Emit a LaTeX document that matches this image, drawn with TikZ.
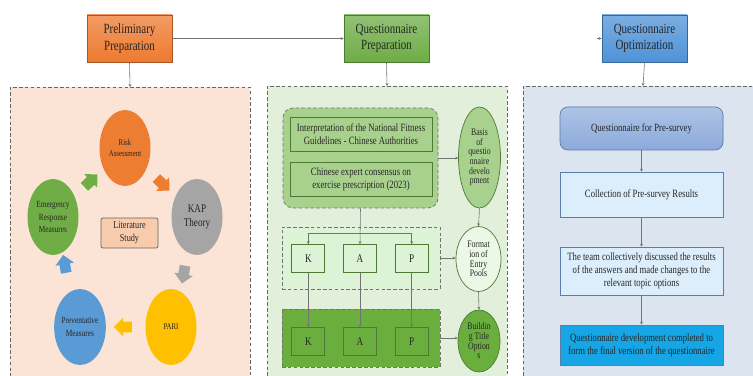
\documentclass[tikz,border=0pt]{standalone}
\usepackage{fontspec}
\setmainfont{Liberation Serif}[FakeStretch=0.78]
\usepackage{xcolor}
\usepackage{tikz}
\usetikzlibrary{matrix,shapes.geometric,shapes.arrows,arrows.meta,calc}
\newlength\pxu
\setlength\pxu{0.03cm}
\definecolor{prepor}{HTML}{EE7A30}
\definecolor{quesgr}{HTML}{6EAD45}
\definecolor{optbl}{HTML}{4F93D8}
\definecolor{peachbg}{HTML}{FBE4D5}
\definecolor{greenbg}{HTML}{E2EFDA}
\definecolor{bluebg}{HTML}{DCE4F0}
\definecolor{riskor}{HTML}{ED7D31}
\definecolor{kapgray}{HTML}{A5A5A5}
\definecolor{pariyel}{HTML}{FFC000}
\definecolor{prevbl}{HTML}{5B9BD5}
\definecolor{emergr}{HTML}{70AD47}
\definecolor{litpeach}{HTML}{F8CBAD}
\definecolor{midgreen}{HTML}{A9D18E}
\definecolor{mintgreen}{HTML}{DDF3D5}
\definecolor{deepgreen}{HTML}{6AAE3E}
\definecolor{edgegreen}{HTML}{4F7A36}
\definecolor{presbl}{HTML}{8CAADB}
\definecolor{collbl}{HTML}{DCEEFB}
\definecolor{finalbl}{HTML}{16A6E6}
\definecolor{edgeblue}{HTML}{5A7DAE}
\newcommand\arrowbody{\phantom{\rule{12\pxu}{10\pxu}}}
\begin{document}
\begin{tikzpicture}[x=0.03cm, y=-0.03cm, line width=0.6pt, text=black!85,
	headbox/.style={draw=#1!70!black, top color=#1!75!white, bottom color=#1, minimum width=85\pxu, minimum height=47\pxu, align=center, font=\fontsize{12}{14}\selectfont},
	panel/.style={draw=black!60, densely dashed, fill=#1, minimum width=240\pxu, minimum height=300\pxu, anchor=north},
	bubble/.style={ellipse, fill=#1, minimum width=51\pxu, minimum height=76\pxu, inner sep=0, align=center, font=\fontsize{7.5}{9.5}\selectfont},
	blockarrow/.style={single arrow, fill=#1, single arrow head extend=4\pxu, inner sep=0},
	grpbox/.style={draw=black!55, densely dashed, fill=#1},
	docbox/.style={draw=edgegreen, fill=midgreen, minimum width=142\pxu, minimum height=34\pxu, align=center, font=\fontsize{9.5}{11}\selectfont},
	oval/.style={ellipse, draw=edgegreen, fill=#1, minimum width=42\pxu, inner sep=0, align=center, font=\fontsize{8.5}{8.2}\selectfont},
	kapbox/.style={draw=edgegreen, fill=#1, minimum width=33\pxu, minimum height=28\pxu, font=\fontsize{10}{12}\selectfont},
	stepbox/.style={draw=edgeblue, fill=#1, minimum width=163\pxu, align=center, font=\fontsize{9.5}{11}\selectfont},
	link/.style={draw=black!55, line width=0.5pt, -{Stealth[length=2.5pt,width=2.5pt]}}]
	\clip (0,0) rectangle (753,376);
	\node[headbox=prepor] (prep) at (129.5,38.5) {Preliminary\\Preparation};
	\node[headbox=quesgr] (ques) at (386.5,38.5) {Questionnaire\\Preparation};
	\node[headbox=optbl] (opt) at (644.5,38.5) {Questionnaire\\Optimization};
	\coordinate (optin) at (597,38.5);
	\draw[link] (prep) -- (ques);
	\draw[link] (optin) -- (opt);
	\node[panel=peachbg] (prepbg) at (130,87) {};
	\node[panel=greenbg] (quesbg) at (387,86) {};
	\node[panel=bluebg] (optbg) at (643,86) {};
	\draw[link] (prep.south) -- (prepbg.north);
	\draw[link] (ques.south) -- (quesbg.north);
	\draw[link] (opt.south) -- (optbg.north);
	\node[bubble=riskor] (risk) at (125,148) {Risk\\Assessment};
	\node[bubble=kapgray, font=\fontsize{10}{12}\selectfont] (kapt) at (197,217) {KAP\\Theory};
	\node[bubble=pariyel] (pari) at (171,327) {PARI};
	\node[bubble=prevbl, font=\fontsize{8}{10.5}\selectfont] (prev) at (80,327) {Preventative\\Measures};
	\node[bubble=emergr, font=\fontsize{8}{10.5}\selectfont] (emer) at (53,217) {Emergency\\Response\\Measures};
	\node[draw=black!60, fill=litpeach, rounded corners=2\pxu, minimum width=57\pxu, minimum height=30\pxu, align=center, font=\fontsize{9}{11}\selectfont] (lit) at (129.5,233) {Literature\\Study};
	\node[blockarrow=riskor, rotate=-44] (ar1) at ($(risk)!0.5!(kapt)$) {\arrowbody};
	\node[blockarrow=kapgray, rotate=-100] (ar2) at ($(kapt)!0.5!(pari)$) {\arrowbody};
	\node[blockarrow=pariyel, rotate=180] (ar3) at ($(pari)!0.5!(prev)$) {\arrowbody};
	\node[blockarrow=prevbl, rotate=100] (ar4) at ($(prev)!0.55!(emer)$) {\arrowbody};
	\node[blockarrow=emergr, rotate=44] (ar5) at ($(emer)!0.5!(risk)$) {\arrowbody};
	\node[grpbox=midgreen, rounded corners=10\pxu, minimum width=155\pxu, minimum height=100\pxu] (basisgrp) at (360.5,158) {};
	\node[docbox] (guide) at (361,134.5) {Interpretation of the National Fitness\\Guidelines - Chinese Authorities};
	\node[docbox] (cons) at (361,179) {Chinese expert consensus on\\exercise prescription (2023)};
	\node[oval=midgreen, minimum height=101\pxu] (basis) at (479.5,157.5) {Basis\\of\\questio\\nnaire\\develo\\pment};
	\node[grpbox=mintgreen, minimum width=158\pxu, minimum height=62\pxu] (kapgrp1) at (361,258) {};
	\node[grpbox=deepgreen, minimum width=158\pxu, minimum height=58\pxu] (kapgrp2) at (361,338) {};
	\matrix(kaptop)[matrix of nodes, nodes={kapbox=mintgreen}, column sep=18\pxu] at (360,258.5) {
		K & A & P \\
	};
	\matrix(kapbot)[matrix of nodes, nodes={kapbox=deepgreen}, column sep=18\pxu] at (360,341.5) {
		K & A & P \\
	};
	\node[oval=mintgreen!60!white, minimum width=45\pxu, minimum height=65\pxu] (form) at (478.5,259) {Format\\ion of\\Entry\\Pools};
	\node[oval=deepgreen, minimum height=62\pxu] (build) at (479,341) {Buildin\\g Title\\Option\\s};
	\coordinate (split) at (360,233);
	\draw[link] (basisgrp.south) -- (kaptop-1-2.north);
	\draw[link] (split) -| (kaptop-1-1.north);
	\draw[link] (split) -| (kaptop-1-3.north);
	\foreach \c in {1,2,3}
		\draw[link] (kaptop-1-\c.south) -- (kapbot-1-\c.north);
	\draw[link] (basisgrp.east) -- (basisgrp.east -| basis.west);
	\draw[link] (kapgrp1.east) -- (kapgrp1.east -| form.west);
	\draw[link] (kapgrp2.east) -- (kapgrp2.east -| build.west);
	\draw[link] (basis.south) -- (form.north);
	\draw[link] (form.south) -- (build.north);
	\node[stepbox=presbl, top color=presbl!70!white, bottom color=presbl, rounded corners=8\pxu, minimum height=43\pxu] (pres) at (641.5,128.5) {Questionnaire for Pre-survey};
	\node[stepbox=collbl, minimum height=45\pxu] (coll) at (641.5,194.5) {Collection of Pre-survey Results};
	\node[stepbox=collbl, minimum height=48\pxu] (team) at (641.5,271) {The team collectively discussed the results\\of the answers and made changes to the\\relevant topic options};
	\node[stepbox=finalbl, minimum height=40\pxu] (final) at (641.5,345) {Questionnaire development completed to\\form the final version of the questionnaire};
	\draw[link] (pres.south) -- (coll.north);
	\draw[link] (coll.south) -- (team.north);
	\draw[link] (team.south) -- (final.north);
\end{tikzpicture}
\end{document}
